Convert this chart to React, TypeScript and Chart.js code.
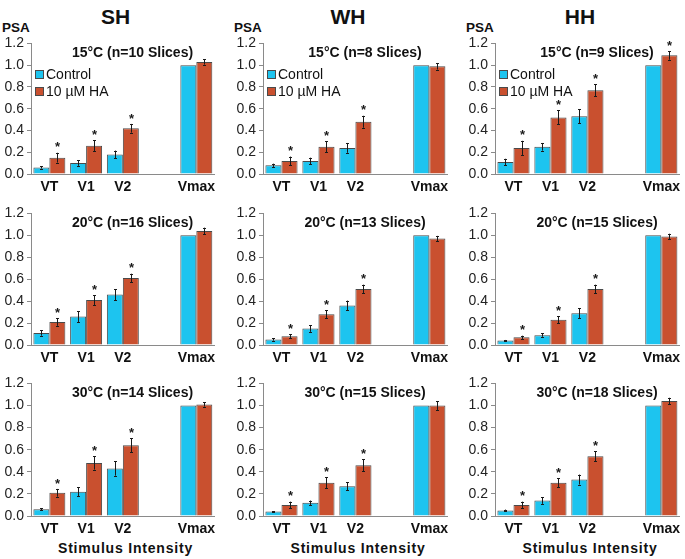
import React, { useEffect, useRef } from 'react';
import { Chart, registerables } from 'chart.js';

Chart.register(...registerables);

const FONT = '"Liberation Sans", Arial, sans-serif';

// ---- Data ----
const CATEGORIES = ['VT', 'V1', 'V2', '', 'Vmax'];
const SERIES_NAMES = ['Control', '10 µM HA'];
const COLUMN_TITLES = ['SH', 'WH', 'HH'];
const Y_TICKS = [0, 0.2, 0.4, 0.6, 0.8, 1.0, 1.2];

const PANEL_TITLES = [
  '15°C (n=10 Slices)', '15°C (n=8 Slices)', '15°C (n=9 Slices)',
  '20°C (n=16 Slices)', '20°C (n=13 Slices)', '20°C (n=15 Slices)',
  '30°C (n=14 Slices)', '30°C (n=15 Slices)', '30°C (n=18 Slices)',
];

// SH 15°C
const SH15_CTRL = [0.06, 0.10, 0.18, null, 1.00];
const SH15_HA = [0.15, 0.26, 0.42, null, 1.03];
const SH15_CTRL_ERR = [0.01, 0.025, 0.035, null, 0];
const SH15_HA_ERR = [0.045, 0.05, 0.04, null, 0.025];
const SH15_SIG = [true, true, true, false, false];
// WH 15°C
const WH15_CTRL = [0.08, 0.12, 0.24, null, 1.00];
const WH15_HA = [0.12, 0.25, 0.48, null, 0.99];
const WH15_CTRL_ERR = [0.015, 0.03, 0.045, null, 0];
const WH15_HA_ERR = [0.04, 0.05, 0.055, null, 0.03];
const WH15_SIG = [true, true, true, false, false];
// HH 15°C
const HH15_CTRL = [0.11, 0.25, 0.53, null, 1.00];
const HH15_HA = [0.24, 0.52, 0.77, null, 1.09];
const HH15_CTRL_ERR = [0.03, 0.035, 0.065, null, 0];
const HH15_HA_ERR = [0.065, 0.065, 0.055, null, 0.04];
const HH15_SIG = [true, true, true, false, true];
// SH 20°C
const SH20_CTRL = [0.11, 0.26, 0.46, null, 1.00];
const SH20_HA = [0.21, 0.41, 0.61, null, 1.04];
const SH20_CTRL_ERR = [0.025, 0.05, 0.05, null, 0];
const SH20_HA_ERR = [0.035, 0.045, 0.04, null, 0.03];
const SH20_SIG = [true, true, true, false, false];
// WH 20°C
const WH20_CTRL = [0.05, 0.15, 0.36, null, 1.00];
const WH20_HA = [0.08, 0.28, 0.51, null, 0.97];
const WH20_CTRL_ERR = [0.01, 0.03, 0.045, null, 0];
const WH20_HA_ERR = [0.02, 0.035, 0.04, null, 0.025];
const WH20_SIG = [true, true, true, false, false];
// HH 20°C
const HH20_CTRL = [0.04, 0.09, 0.29, null, 1.00];
const HH20_HA = [0.07, 0.23, 0.51, null, 0.99];
const HH20_CTRL_ERR = [0.006, 0.015, 0.045, null, 0];
const HH20_HA_ERR = [0.015, 0.03, 0.04, null, 0.025];
const HH20_SIG = [true, true, true, false, false];
// SH 30°C
const SH30_CTRL = [0.06, 0.22, 0.43, null, 1.00];
const SH30_HA = [0.21, 0.48, 0.64, null, 1.01];
const SH30_CTRL_ERR = [0.01, 0.04, 0.065, null, 0];
const SH30_HA_ERR = [0.035, 0.06, 0.065, null, 0.02];
const SH30_SIG = [true, true, true, false, false];
// WH 30°C
const WH30_CTRL = [0.04, 0.12, 0.27, null, 1.00];
const WH30_HA = [0.10, 0.30, 0.46, null, 1.00];
const WH30_CTRL_ERR = [0.005, 0.02, 0.035, null, 0];
const WH30_HA_ERR = [0.03, 0.05, 0.055, null, 0.04];
const WH30_SIG = [true, true, true, false, false];
// HH 30°C
const HH30_CTRL = [0.05, 0.14, 0.33, null, 1.00];
const HH30_HA = [0.10, 0.30, 0.54, null, 1.04];
const HH30_CTRL_ERR = [0.008, 0.03, 0.045, null, 0];
const HH30_HA_ERR = [0.03, 0.04, 0.045, null, 0.03];
const HH30_SIG = [true, true, true, false, false];

const PANEL_DATA = [
  [SH15_CTRL, SH15_HA, SH15_CTRL_ERR, SH15_HA_ERR, SH15_SIG],
  [WH15_CTRL, WH15_HA, WH15_CTRL_ERR, WH15_HA_ERR, WH15_SIG],
  [HH15_CTRL, HH15_HA, HH15_CTRL_ERR, HH15_HA_ERR, HH15_SIG],
  [SH20_CTRL, SH20_HA, SH20_CTRL_ERR, SH20_HA_ERR, SH20_SIG],
  [WH20_CTRL, WH20_HA, WH20_CTRL_ERR, WH20_HA_ERR, WH20_SIG],
  [HH20_CTRL, HH20_HA, HH20_CTRL_ERR, HH20_HA_ERR, HH20_SIG],
  [SH30_CTRL, SH30_HA, SH30_CTRL_ERR, SH30_HA_ERR, SH30_SIG],
  [WH30_CTRL, WH30_HA, WH30_CTRL_ERR, WH30_HA_ERR, WH30_SIG],
  [HH30_CTRL, HH30_HA, HH30_CTRL_ERR, HH30_HA_ERR, HH30_SIG],
];

// ---- Layout / style ----
const CTRL_COLOR = '#1DC4EF';
const HA_COLOR = '#C9502F';
const BAR_BORDER = '#4a4a4a';
const AXIS_COLOR = '#8a8a8a';
const COL_AXIS_X = [31, 263, 495];
const COL_RIGHT = [220, 453, 685];
const ROW_TOP = [42, 212, 382];
const ROW_BOTTOM = [174, 345, 516];
const Y_AXIS_W = 31;
const PAD_TOP = 10;
const X_AXIS_H = 24;

const errorBarPlugin = {
  id: 'errorBarsStars',
  afterDatasetsDraw(chart: any) {
    const { ctx } = chart;
    const ys = chart.scales.y;
    chart.data.datasets.forEach((ds: any, di: number) => {
      const meta = chart.getDatasetMeta(di);
      meta.data.forEach((bar: any, i: number) => {
        const v = ds.data[i];
        if (v == null) return;
        const e = (ds.errors && ds.errors[i]) || 0;
        const x = Math.round(bar.x) + 0.5;
        const top = ys.getPixelForValue(v + e);
        if (e > 0) {
          const bot = ys.getPixelForValue(v - e);
          ctx.save();
          ctx.strokeStyle = '#1a1a1a';
          ctx.lineWidth = 1;
          ctx.beginPath();
          ctx.moveTo(x, top);
          ctx.lineTo(x, bot);
          ctx.moveTo(x - 1.5, Math.round(top) + 0.5);
          ctx.lineTo(x + 1.5, Math.round(top) + 0.5);
          ctx.moveTo(x - 1.5, Math.round(bot) + 0.5);
          ctx.lineTo(x + 1.5, Math.round(bot) + 0.5);
          ctx.stroke();
          ctx.restore();
        }
        if (ds.sig && ds.sig[i]) {
          ctx.save();
          ctx.fillStyle = '#1a1a1a';
          ctx.font = `bold 13px ${FONT}`;
          ctx.textAlign = 'center';
          ctx.textBaseline = 'middle';
          ctx.fillText('*', x, top - 5);
          ctx.restore();
        }
      });
    });
  },
};

function Panel({ idx }: { idx: number }) {
  const ref = useRef<HTMLCanvasElement>(null);
  const row = Math.floor(idx / 3);
  const col = idx % 3;
  const left = COL_AXIS_X[col] - Y_AXIS_W;
  const top = ROW_TOP[row] - PAD_TOP;
  const width = COL_RIGHT[col] - left;
  const height = PAD_TOP + (ROW_BOTTOM[row] - ROW_TOP[row]) + X_AXIS_H;

  useEffect(() => {
    const [ctrl, ha, ctrlErr, haErr, sig] = PANEL_DATA[idx] as any[];
    const chart = new Chart(ref.current as HTMLCanvasElement, {
      type: 'bar',
      data: {
        labels: CATEGORIES,
        datasets: [
          {
            label: SERIES_NAMES[0],
            data: ctrl,
            backgroundColor: CTRL_COLOR,
            borderColor: BAR_BORDER,
            borderWidth: 1,
            errors: ctrlErr,
            sig: [false, false, false, false, false],
          } as any,
          {
            label: SERIES_NAMES[1],
            data: ha,
            backgroundColor: HA_COLOR,
            borderColor: BAR_BORDER,
            borderWidth: 1,
            errors: haErr,
            sig,
          } as any,
        ],
      },
      options: {
        responsive: false,
        animation: false,
        devicePixelRatio: 1,
        layout: { padding: { top: PAD_TOP, right: 0, bottom: 0, left: 0 } },
        datasets: { bar: { categoryPercentage: 0.87, barPercentage: 1.0 } },
        plugins: { legend: { display: false }, tooltip: { enabled: false }, title: { display: false } },
        scales: {
          x: {
            grid: { display: false, drawTicks: false },
            border: { display: true, color: AXIS_COLOR, width: 1 },
            ticks: { color: '#111', font: { family: FONT, size: 14, weight: 'bold' }, padding: 5, maxRotation: 0, autoSkip: false },
            afterFit: (s: any) => { s.height = X_AXIS_H; },
          },
          y: {
            min: 0,
            max: 1.2,
            afterBuildTicks: (s: any) => { s.ticks = Y_TICKS.map((v) => ({ value: v })); },
            grid: { drawOnChartArea: false, drawTicks: true, tickLength: 4, color: AXIS_COLOR },
            border: { display: true, color: AXIS_COLOR, width: 1 },
            ticks: { color: '#222', font: { family: FONT, size: 14 }, padding: 3, callback: (v: any) => Number(v).toFixed(1) },
            afterFit: (s: any) => { s.width = Y_AXIS_W; },
          },
        },
      } as any,
      plugins: [errorBarPlugin],
    });
    return () => chart.destroy();
  }, [idx]);

  const plotCenter = (COL_AXIS_X[col] + COL_RIGHT[col]) / 2;
  return (
    <>
      <canvas ref={ref} width={width} height={height} style={{ position: 'absolute', left, top, width, height }} />
      <div style={{ position: 'absolute', left: plotCenter + 7, top: ROW_TOP[row] + 10, transform: 'translate(-50%, -50%)', font: `bold 14px ${FONT}`, color: '#111', whiteSpace: 'nowrap' }}>
        {PANEL_TITLES[idx]}
      </div>
      {row === 0 && (
        <div style={{ position: 'absolute', left: COL_AXIS_X[col] + 4, top: ROW_TOP[row] + 24, font: `14px ${FONT}`, color: '#111', lineHeight: '17px' }}>
          {SERIES_NAMES.map((n, i) => (
            <div key={n} style={{ display: 'flex', alignItems: 'center', whiteSpace: 'nowrap' }}>
              <span style={{ display: 'inline-block', width: 7, height: 7, border: `1px solid ${BAR_BORDER}`, background: i === 0 ? CTRL_COLOR : HA_COLOR, marginRight: 2 }} />
              {n}
            </div>
          ))}
        </div>
      )}
    </>
  );
}

export default function App() {
  return (
    <div style={{ position: 'absolute', left: 0, top: 0, width: 685, height: 559, background: '#fff', overflow: 'hidden', fontFamily: FONT }}>
      {COLUMN_TITLES.map((t, c) => (
        <div key={t} style={{ position: 'absolute', left: (COL_AXIS_X[c] + COL_RIGHT[c]) / 2 - 10, top: 17, transform: 'translate(-50%, -50%)', font: `bold 21px ${FONT}`, color: '#111' }}>
          {t}
        </div>
      ))}
      {COLUMN_TITLES.map((t, c) => (
        <div key={'psa' + t} style={{ position: 'absolute', left: COL_AXIS_X[c] - 29, top: 27, transform: 'translateY(-50%)', font: `bold 13.5px ${FONT}`, color: '#111' }}>
          PSA
        </div>
      ))}
      {COLUMN_TITLES.map((t, c) => (
        <div key={'si' + t} style={{ position: 'absolute', left: (COL_AXIS_X[c] + COL_RIGHT[c]) / 2, top: 548, transform: 'translate(-50%, -50%)', font: `bold 14px ${FONT}`, letterSpacing: '0.8px', color: '#111', whiteSpace: 'nowrap' }}>
          Stimulus Intensity
        </div>
      ))}
      {PANEL_DATA.map((_, i) => (
        <Panel key={i} idx={i} />
      ))}
    </div>
  );
}
